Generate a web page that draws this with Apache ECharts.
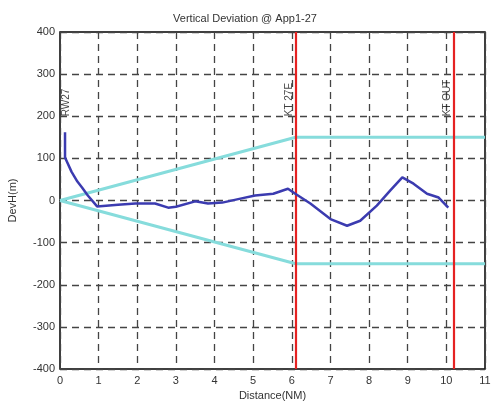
<!DOCTYPE html>
<html><head><meta charset="utf-8">
<script src="https://cdn.jsdelivr.net/npm/echarts@6/dist/echarts.min.js"></script>
<style>html,body{margin:0;padding:0;background:#fff}#c{width:492px;height:405px}</style>
</head><body><div id="c"></div>
<script>
const devDistance = [0.13,0.13,0.3,0.45,0.57,0.72,0.96,1.5,1.95,2.46,2.8,3.0,3.5,3.83,4.2,4.7,5.05,5.52,5.9,6.09,6.48,7.0,7.43,7.77,8.2,8.55,8.86,9.15,9.5,9.8,10.05];
const devHeight = [162,102,68,45,31,12,-14,-10,-7,-7,-17,-15,-2,-7,-5,5,12,16,28,16,-7,-44,-60,-48,-12,24,55,40,16,7,-17];
const upperDistance = [0,6.1,11];
const upperLimit = [0,150,150];
const lowerDistance = [0,6.1,11];
const lowerLimit = [0,-150,-150];
const fixNames = ['RW27','KT 27E','KT OUT'];
const fixDistance = [0.3,6.05,10.15];
const fixLabelY = [200,200,200];
const redLines = [6.1,10.2];

const zip = (a,b)=>a.map((v,i)=>[v,b[i]]);
const chart = echarts.init(document.getElementById('c'));
const txt = '#333';
chart.setOption({
  animation:false,
  title:{text:'Vertical Deviation @ App1-27',left:240,top:8,textAlign:'center',
    textStyle:{fontSize:11,fontWeight:'normal',color:txt,fontFamily:'Liberation Sans'}},
  grid:{left:60,right:7,top:32,bottom:36,show:true,borderColor:'#000',borderWidth:1.5,backgroundColor:'#fff',
    outerBoundsMode:'none',containLabel:false},
  xAxis:{type:'value',min:0,max:11,interval:1,name:'Distance(NM)',nameLocation:'middle',nameGap:20,
    nameTextStyle:{fontSize:11,color:txt,fontFamily:'Liberation Sans'},
    axisLine:{show:false},axisTick:{show:false},
    axisLabel:{fontSize:11,color:txt,margin:6,fontFamily:'Liberation Sans'},
    splitLine:{show:true,lineStyle:{color:'#444',width:1.3,type:[7,5]}}},
  yAxis:{type:'value',min:-400,max:400,interval:100,name:'DevH(m)',nameLocation:'middle',nameGap:42,
    nameTextStyle:{fontSize:11,color:txt,fontFamily:'Liberation Sans'},
    axisLine:{show:false},axisTick:{show:false},
    axisLabel:{fontSize:11,color:txt,margin:5,fontFamily:'Liberation Sans'},
    splitLine:{show:true,lineStyle:{color:'#444',width:1.3,type:[7,5]}}},
  series:[
    {type:'line',data:zip(upperDistance,upperLimit),symbol:'none',lineStyle:{color:'#86dcdc',width:3},z:3},
    {type:'line',data:zip(lowerDistance,lowerLimit),symbol:'none',lineStyle:{color:'#86dcdc',width:3},z:3},
    {type:'line',data:redLines.map(v=>[v,0]),symbol:'none',lineStyle:{opacity:0},z:4,
      markLine:{symbol:['none','none'],silent:true,label:{show:false},
        lineStyle:{color:'#e52222',width:2.2,type:'solid'},
        data:redLines.map(v=>({xAxis:v}))}},
    {type:'line',data:zip(devDistance,devHeight),symbol:'none',lineStyle:{color:'#3b3bb0',width:2.5},z:5},
    {type:'scatter',symbolSize:0,z:6,data:zip(fixDistance,fixLabelY).map((p,i)=>({value:p,name:fixNames[i]})),
      label:{show:true,formatter:'{b}',rotate:90,position:'inside',align:'left',verticalAlign:'bottom',
        fontSize:10,color:'#111',fontFamily:'Liberation Sans'}}
  ]
});
</script></body></html>
